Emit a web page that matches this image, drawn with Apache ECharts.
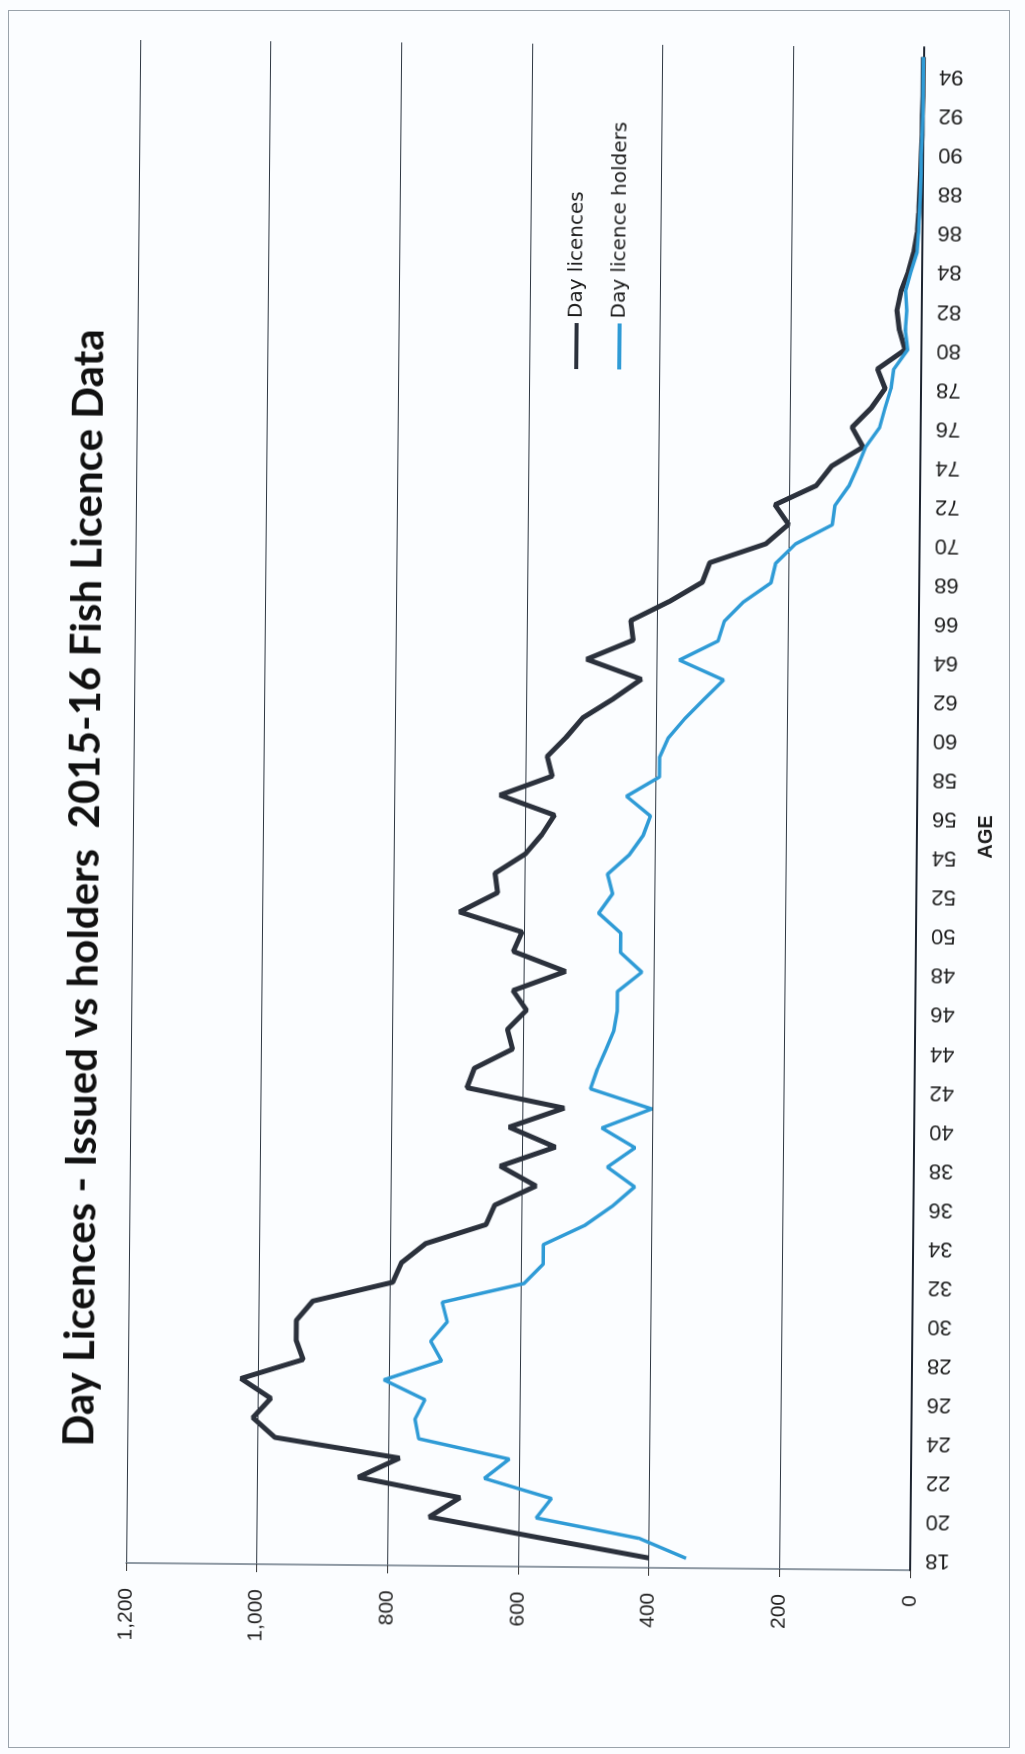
<!DOCTYPE html>
<html>
<head>
<meta charset="utf-8">
<script src="https://cdn.jsdelivr.net/npm/echarts@6/dist/echarts.min.js"></script>
<style>
html,body{margin:0;padding:0;width:1025px;height:1754px;overflow:hidden;background:#fbfdff;}
#frame{position:absolute;left:8px;top:10px;width:1002px;height:1738px;border:1.5px solid #9aa3ab;box-sizing:border-box;}
#chart{position:absolute;left:-364.5px;top:364.5px;width:1754px;height:1025px;transform:rotate(-89.47deg);transform-origin:50% 50%;}
</style>
</head>
<body>
<div id="frame"></div>
<div id="chart"></div>
<script>
const titleText = 'Day Licences - Issued vs holders  2015-16 Fish Licence Data';
const axisName = 'AGE';
const seriesNames = ['Day licences', 'Day licence holders'];
const ages = ['18','19','20','21','22','23','24','25','26','27','28','29','30','31','32','33','34','35','36','37',
  '38','39','40','41','42','43','44','45','46','47','48','49','50','51','52','53','54','55','56','57',
  '58','59','60','61','62','63','64','65','66','67','68','69','70','71','72','73','74','75','76','77',
  '78','79','80','81','82','83','84','85','86','87','88','89','90','91','92','93','94','95'];
const dayLicences = [400,570,737,690,846,783,974,1008,981,1027,932,943,943,918,796,783,746,654,641,578,
  633,549,620,536,685,674,616,624,595,616,536,616,603,699,641,645,599,574,555,639,
  559,567,538,513,466,424,508,437,441,382,332,321,235,201,222,159,136,88,105,76,
  55,67,25,34,38,32,21,13,8,6,5,4,3,2,2,1,1,1];
const dayLicenceHolders = [343,415,573,550,653,615,754,760,745,808,720,737,712,720,595,566,566,503,461,427,
  469,427,478,402,496,486,473,461,456,456,419,452,452,486,465,473,440,419,408,445,
  395,395,382,357,328,298,366,307,298,269,227,220,190,134,130,109,96,84,63,55,
  46,42,21,25,23,25,17,8,6,5,4,3,3,2,1,1,1,1];
const valueMin = 0, valueMax = 1200, valueStep = 200;
const darkColor = '#2b313c', blueColor = '#2f9bd6';

const chart = echarts.init(document.getElementById('chart'), null, {renderer:'canvas', width:1754, height:1025});
chart.setOption({
  animation:false,
  backgroundColor:'transparent',
  title:{
    text:titleText, left:299, top:58,
    textStyle:{fontFamily:'Lato', fontWeight:'bold', fontSize:42, color:'#111'}
  },
  legend:{
    orient:'vertical', left:1381, top:556, itemWidth:46, itemHeight:4, itemGap:23,
    textStyle:{fontFamily:'DejaVu Sans', fontSize:20, lineHeight:20, color:'#1a1a1a'},
    data:[{name:seriesNames[0], icon:'rect'}, {name:seriesNames[1], icon:'rect'}]
  },
  grid:{left:188, right:43, top:132, bottom:109, containLabel:false},
  xAxis:{
    type:'category', data:ages, boundaryGap:true,
    axisLine:{lineStyle:{color:'#1d2430', width:2}},
    axisTick:{inside:true, length:4, interval:0, lineStyle:{color:'#3a4450'}},
    axisLabel:{rotate:90, interval:1, margin:15, fontFamily:'Liberation Sans', fontSize:22, color:'#1e1e1e'}
  },
  yAxis:{
    type:'value', min:valueMin, max:valueMax, interval:valueStep,
    axisLine:{show:true, lineStyle:{color:'#6b7886', width:1.5}},
    axisTick:{show:true, length:8, lineStyle:{color:'#333'}},
    splitLine:{lineStyle:{color:'#2e3742', width:1.2}},
    axisLabel:{margin:25, fontFamily:'Liberation Sans', fontSize:21, color:'#222',
      formatter:function(v){return v.toLocaleString('en-US');}}
  },
  graphic:[{
    type:'text', x:922, y:985,
    style:{text:axisName, fontFamily:'Liberation Sans Narrow, Liberation Sans', fontWeight:'bold', fontSize:20,
      fill:'#1e1e1e', align:'center', verticalAlign:'middle'}
  }],
  series:[
    {name:seriesNames[0], type:'line', data:dayLicences, symbol:'none',
      lineStyle:{color:darkColor, width:5}, itemStyle:{color:darkColor}},
    {name:seriesNames[1], type:'line', data:dayLicenceHolders, symbol:'none',
      lineStyle:{color:blueColor, width:3.5}, itemStyle:{color:blueColor}}
  ]
});
</script>
</body>
</html>
